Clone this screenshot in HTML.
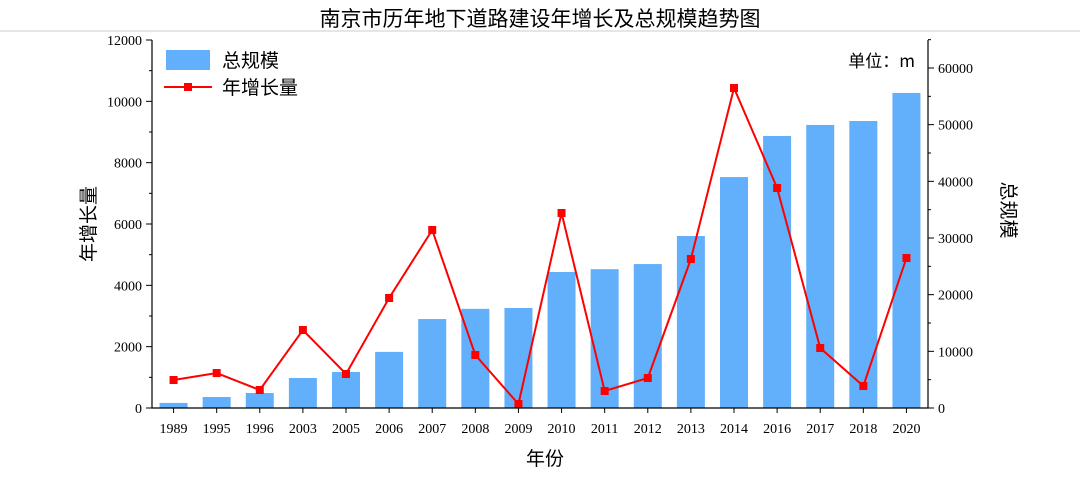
<!DOCTYPE html>
<html><head><meta charset="utf-8">
<style>
body{margin:0;background:#fff;}
svg text{font-family:"Liberation Serif","Noto Serif CJK SC","Noto Sans CJK SC",serif;fill:#000;}
</style></head>
<body>
<svg id="chart" width="1080" height="487" xmlns="http://www.w3.org/2000/svg">
<text x="540" y="26" font-size="21" text-anchor="middle" style="font-family:'Noto Sans CJK SC',sans-serif">南京市历年地下道路建设年增长及总规模趋势图</text>
<line x1="0" y1="31" x2="1080" y2="31" stroke="#ccc" stroke-width="1"/>
<g id="plot"></g>
</svg>
<script>
const categories=["1989","1995","1996","2003","2005","2006","2007","2008","2009","2010","2011","2012","2013","2014","2016","2017","2018","2020"];
const totalScale=[900,1940,2650,5300,6350,9900,15700,17500,17650,24000,24500,25400,30350,40750,48000,49950,50650,55600];
const annualGrowth=[913,1140,587,2543,1109,3587,5804,1728,130,6358,554,978,4858,10434,7174,1956,717,4891];
const leftTicks=[0,2000,4000,6000,8000,10000,12000];
const rightTicks=[0,10000,20000,30000,40000,50000,60000];

const L=152,R=928,T=40,B=408;
const NS="http://www.w3.org/2000/svg";
const g=document.getElementById('plot');
const band=(R-L)/categories.length;
const xPos=i=>L+band*(i+0.5);
const yL=v=>B-(v/12000)*(B-T);
const yR=v=>B-(v/60000)*340;
function mk(tag,attrs,parent){const e=document.createElementNS(NS,tag);for(const k in attrs)e.setAttribute(k,attrs[k]);(parent||g).appendChild(e);return e;}

totalScale.forEach((v,i)=>{
 const r=mk('rect',{x:xPos(i)-14,y:yR(v),width:28,height:B-yR(v),fill:'#62b0fc'});
 
 
});
const pts=annualGrowth.map((v,i)=>xPos(i)+','+yL(v)).join(' ');
const pl=mk('polyline',{points:pts,fill:'none',stroke:'#ff0000','stroke-width':2});


annualGrowth.forEach((v,i)=>{
 const p=mk('rect',{x:xPos(i)-4,y:yL(v)-4,width:8,height:8,fill:'#ff0000'});
 
 
});
// axes
const ax=mk('path',{d:`M${L},${T}V${B}H${R}V${T}`,fill:'none',stroke:'#000','stroke-width':1.2});


leftTicks.forEach(v=>{
 const y=yL(v);
 mk('line',{x1:L-6,y1:y,x2:L,y2:y,stroke:'#000'});
 if(v<12000)mk('line',{x1:L-3,y1:yL(v+1000),x2:L,y2:yL(v+1000),stroke:'#000'});
 const t=mk('text',{x:L-10,y:y+5,'font-size':14,'text-anchor':'end'});t.textContent=v;
 
 
});
rightTicks.forEach(v=>{
 const y=yR(v);
 mk('line',{x1:R,y1:y,x2:R+6,y2:y,stroke:'#000'});
 mk('line',{x1:R,y1:yR(v+5000),x2:R+3,y2:yR(v+5000),stroke:'#000'});
 const t=mk('text',{x:R+10,y:y+5,'font-size':14});t.textContent=v;
 
 
});
categories.forEach((c,i)=>{
 mk('line',{x1:xPos(i),y1:B,x2:xPos(i),y2:B+5,stroke:'#000'});
 const t=mk('text',{x:xPos(i),y:B+25,'font-size':14,'text-anchor':'middle'});t.textContent=c;
 
 
});
function lab(txt,x,y,size,name,rot){const t=mk('text',{x:x,y:y,'font-size':size,'text-anchor':'middle',style:"font-family:'Noto Sans CJK SC',sans-serif"});if(rot)t.setAttribute('transform',`rotate(${rot} ${x} ${y})`);t.textContent=txt;return t;}
lab('年份',545,465,19,'x-axis-title');
lab('年增长量',95,224,19,'left-axis-title',-90);
lab('总规模',1002,210,19,'right-axis-title',90);
const u=mk('text',{x:915,y:67,'font-size':17,'text-anchor':'end',style:"font-family:'Noto Sans CJK SC',sans-serif"});u.textContent='单位：m';


// legend
const lg=mk('g',{});


mk('rect',{x:166,y:50,width:44,height:20,fill:'#62b0fc'},lg);
mk('line',{x1:164,y1:87,x2:212,y2:87,stroke:'#ff0000','stroke-width':2},lg);
mk('rect',{x:184,y:83,width:8,height:8,fill:'#ff0000'},lg);
const l1=mk('text',{x:222,y:67,'font-size':19,style:"font-family:'Noto Sans CJK SC',sans-serif"},lg);l1.textContent='总规模';


const l2=mk('text',{x:222,y:94,'font-size':19,style:"font-family:'Noto Sans CJK SC',sans-serif"},lg);l2.textContent='年增长量';


</script>
</body></html>
